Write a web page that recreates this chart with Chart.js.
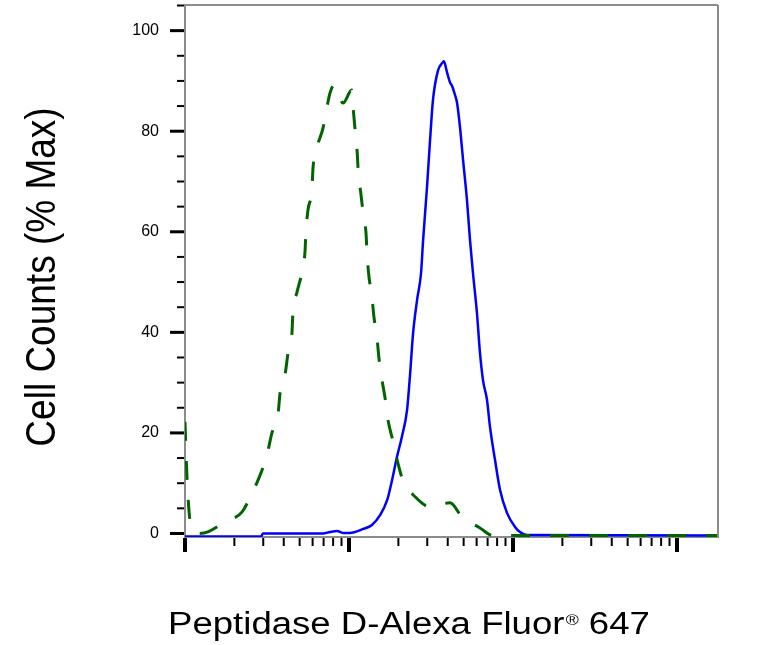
<!DOCTYPE html>
<html>
<head>
<meta charset="utf-8">
<title>Peptidase D flow histogram</title>
<script src="https://cdn.jsdelivr.net/npm/chart.js@4"></script>
<style>
  body { margin: 0; background: #fff; }
  #wrap { width: 766px; height: 645px; }
</style>
</head>
<body>
<div id="wrap"><canvas id="myChart" width="766" height="645"></canvas></div>
<script>
// isotype control, dashed green (fluorescence, % max)
const controlX = [1.00, 1.03, 1.09, 1.23, 1.38, 1.75, 2.23, 2.56, 2.87, 3.16, 3.39, 3.69, 3.80, 4.07,
  4.25, 4.49, 4.55, 4.82, 5.17, 5.39, 5.47, 5.62, 5.95, 6.03, 6.38, 6.94, 7.34, 7.66, 8.10, 8.45,
  9.19, 10.4, 10.6, 10.9, 11.2, 11.4, 11.8, 12.2, 12.7, 12.9, 13.2, 13.8, 14.2, 14.8, 15.2, 15.9,
  16.6, 17.3, 18.5, 19.9, 21.3, 25.3, 31.2, 41.3, 48.9, 62.9, 75.5, 1778];
const controlY = [22.2, 10.6, 1.3, 0, 0.3, 2.3, 4.3, 8.0, 11.6, 15.6, 20.0, 23.6, 28.0, 31.5,
  35.9, 39.9, 44.0, 48.0, 52.0, 56.0, 60.3, 64.3, 68.7, 72.6, 76.8, 80.6, 84.8, 87.6, 89.2, 88.2,
  85.6, 88.2, 84.6, 80.2, 76.2, 71.7, 67.7, 63.7, 59.7, 55.4, 51.4, 47.0, 43.0, 39.1, 35.1, 30.5,
  26.9, 22.5, 18.5, 13.9, 10.6, 7.3, 5.3, 6.1, 3.3, 1.1, -0.4, -0.4];

// Peptidase D stained cells, solid blue
const stainedX = [1.00, 2.91, 2.99, 6.94, 7.66, 8.45, 9.19, 10.1, 12.2, 13.8, 15.5, 17.1, 18.3,
  19.6, 21.0, 22.6, 23.5, 24.6, 26.0, 27.5, 28.3, 29.9, 31.2, 32.5, 34.9, 36.9, 37.9, 39.6, 41.3,
  42.5, 44.3, 45.6, 47.5, 49.6, 52.4, 54.7, 57.0, 60.3, 62.9, 65.6, 69.4, 72.4, 77.7, 83.3, 91.9,
  102.8, 110.3, 121.7, 1778];
const stainedY = [-0.6, -0.6, 0, 0, 0.3, 0.5, 0.1, 0.1, 0.9, 1.7, 3.7, 6.7, 10.6,
  15.2, 19.2, 24.6, 31.1, 39.9, 46.4, 51.8, 58.3, 68.9, 78.2, 86.2, 92.1, 93.5, 93.9, 91.7, 89.7,
  89.0, 87.2, 85.6, 80.8, 74.3, 66.3, 58.3, 51.8, 43.8, 35.9, 30.5, 26.6, 21.2, 14.6, 8.7, 4.1,
  1.3, 0.3, -0.3, -0.4];

const yTickLabels = [0, 20, 40, 60, 80, 100];
const yMinorTicks = [5, 10, 15, 25, 30, 35, 45, 50, 55, 65, 70, 75, 85, 90, 95, 105];
const xMajorTicks = [1, 10, 100, 1000];
const xMinorTicks = [2, 3, 4, 5, 6, 7, 8, 9, 20, 30, 40, 50, 60, 70, 80, 90,
  200, 300, 400, 500, 600, 700, 800, 900];

const yTitle = 'Cell Counts (% Max)';
const xTitle = ['Peptidase D-Alexa Fluor', '\u00AE', ' 647'];

const FONT = 'Arial, "Liberation Sans", Helvetica, sans-serif';
const FRAME = '#8c8c8c';

const toPoints = (xs, ys) => xs.map((x, i) => ({x: x, y: ys[i]}));

// tick marks, top/right frame and the two axis titles
const axisDecor = {
  id: 'axisDecor',
  afterDraw(chart) {
    const ctx = chart.ctx;
    const {left, right, top, bottom} = chart.chartArea;
    const sx = chart.scales.x;
    const sy = chart.scales.y;
    const line = (x1, y1, x2, y2, w) => {
      ctx.lineWidth = w;
      ctx.beginPath();
      ctx.moveTo(x1, y1);
      ctx.lineTo(x2, y2);
      ctx.stroke();
    };
    ctx.save();
    ctx.strokeStyle = FRAME;
    line(left, top, right, top, 2);
    line(right, top, right, bottom, 2);

    ctx.strokeStyle = '#000';
    yTickLabels.forEach(v => { const p = sy.getPixelForValue(v); line(left - 15, p, left - 1, p, 3); });
    yMinorTicks.forEach(v => { const p = sy.getPixelForValue(v); line(left - 8, p, left - 1, p, 2); });
    xMajorTicks.forEach(v => { const p = sx.getPixelForValue(v); line(p, bottom + 1, p, bottom + 15, 4); });
    xMinorTicks.forEach(v => { const p = sx.getPixelForValue(v); line(p, bottom + 1, p, bottom + 9, 2); });

    ctx.fillStyle = '#000';
    // y title, slightly widened like the original raster
    ctx.save();
    ctx.translate(55, (top + bottom) / 2 + 6);
    ctx.scale(1.14, 1);
    ctx.rotate(-Math.PI / 2);
    ctx.font = '37px ' + FONT;
    ctx.textAlign = 'center';
    ctx.textBaseline = 'alphabetic';
    ctx.fillText(yTitle, 0, 0);
    ctx.restore();

    // x title with small raised registered sign
    ctx.save();
    ctx.translate(left - 17, 634);
    ctx.scale(1.18, 1);
    ctx.textAlign = 'left';
    ctx.textBaseline = 'alphabetic';
    let x = 0;
    ctx.font = '31px ' + FONT;
    ctx.fillText(xTitle[0], x, 0);
    x += ctx.measureText(xTitle[0]).width + 1;
    ctx.font = '15px ' + FONT;
    ctx.fillText(xTitle[1], x, -9);
    x += ctx.measureText(xTitle[1]).width;
    ctx.font = '31px ' + FONT;
    ctx.fillText(xTitle[2], x, 0);
    ctx.restore();

    ctx.restore();
  }
};

const ctx = document.getElementById('myChart');
new Chart(ctx, {
  type: 'line',
  data: {
    datasets: [{
      label: 'Isotype control',
      data: toPoints(controlX, controlY),
      borderColor: '#006400',
      borderWidth: 3,
      borderDash: [19, 20],
      pointRadius: 0,
      cubicInterpolationMode: 'monotone',
      fill: false
    }, {
      label: 'Peptidase D',
      data: toPoints(stainedX, stainedY),
      borderColor: '#0000ff',
      borderWidth: 2.5,
      pointRadius: 0,
      cubicInterpolationMode: 'monotone',
      fill: false
    }]
  },
  options: {
    responsive: false,
    animation: false,
    layout: {padding: {top: 5, right: 48, left: 0, bottom: 0}},
    plugins: {legend: {display: false}, tooltip: {enabled: false}},
    scales: {
      x: {
        type: 'logarithmic',
        min: 1,
        max: 1778,
        afterBuildTicks: s => { s.ticks = xMajorTicks.map(v => ({value: v})); },
        ticks: {display: false},
        grid: {display: true, drawOnChartArea: false, drawTicks: false},
        border: {display: true, color: FRAME, width: 2},
        afterFit: s => {
          s.height = 108;
          s.paddingLeft = 0; s.paddingRight = 0; s.paddingTop = 0; s.paddingBottom = 0;
        }
      },
      y: {
        type: 'linear',
        min: -0.7,
        max: 105.1,
        afterBuildTicks: s => { s.ticks = yTickLabels.map(v => ({value: v})); },
        ticks: {
          color: '#000',
          padding: 26,
          font: {family: FONT, size: 16},
          callback: v => String(v)
        },
        grid: {display: true, drawOnChartArea: false, drawTicks: false},
        border: {display: true, color: FRAME, width: 2},
        afterFit: s => {
          s.width = 185;
          s.paddingTop = 0; s.paddingBottom = 0; s.paddingLeft = 0; s.paddingRight = 0;
        }
      }
    }
  },
  plugins: [axisDecor]
});
</script>
</body>
</html>
